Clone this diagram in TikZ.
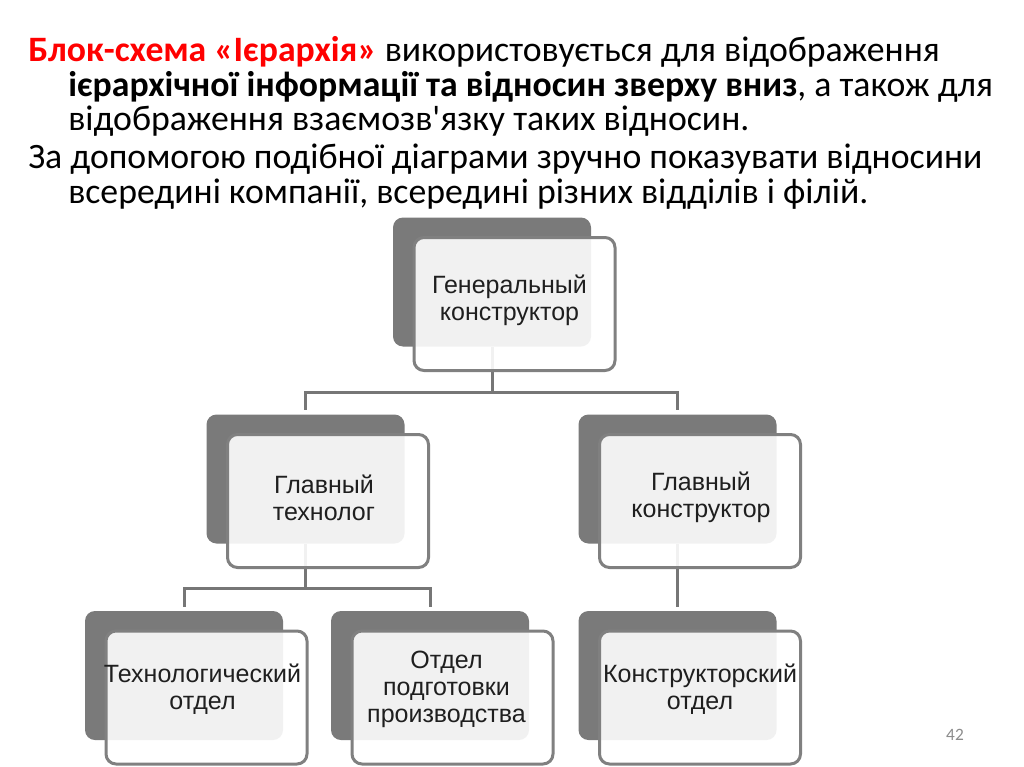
\documentclass[tikz,border=0pt]{standalone}
\usepackage{fontspec}
\setmainfont{Carlito}
\newfontfamily\boxfont{Liberation Sans}
\usetikzlibrary{calc}
\definecolor{titlered}{RGB}{255,0,0}
\definecolor{backgray}{RGB}{122,122,122}
\definecolor{linegray}{RGB}{118,118,118}
\definecolor{edgegray}{RGB}{128,128,128}
\definecolor{numgray}{RGB}{140,140,140}

\begin{document}
\begin{tikzpicture}[x=0.75pt,y=-0.75pt,
    back/.style={fill=backgray, draw=none, rounded corners=7.5pt,
      minimum width=148.5pt, minimum height=96.75pt, inner sep=0pt},
    front/.style={fill=white, fill opacity=0.9, draw=edgegray, draw opacity=1,
      line width=2.25pt, rounded corners=7.5pt,
      minimum width=150.75pt, minimum height=99.75pt, inner sep=0pt},
    boxtext/.style={font=\boxfont\fontsize{18.75}{20.5}\selectfont, text=black!88,
      align=center, inner sep=0pt},
    conn/.style={draw=linegray, line width=2.25pt, shorten >=3pt},
    txt/.style={anchor=base west, inner sep=0pt, font=\fontsize{26.8}{30}\selectfont}]
    \useasboundingbox[fill=white] (0,0) rectangle (1024,767); % page

    % text above the chart
    \node[txt] (l1) at (28,62) {\textcolor{titlered}{\bfseries Блок-схема «Ієрархія»} використовується для відображення};
    \node[txt] (l2) at (68,97) {\textbf{ієрархічної інформації та відносин зверху вниз}, а також для};
    \node[txt] (l3) at (68,130) {відображення взаємозв\textquotesingle язку таких відносин.};
    \node[txt] (l4) at (28,168) {За допомогою подібної діаграми зручно показувати відносини};
    \node[txt] (l5) at (68,203) {всередині компанії, всередині різних відділів і філій.};

    % dark back boxes
    \node[back] (gen-b) at (492,282) {};
    \node[back] (tech-b) at (305.5,479) {};
    \node[back] (kon-b) at (677.5,479) {};
    \node[back] (tdep-b) at (184,675.5) {};
    \node[back] (prep-b) at (430,675.5) {};
    \node[back] (kdep-b) at (677.5,675.5) {};

    % connectors
    \coordinate (j1) at (492,392);
    \coordinate (j2) at (305.5,588);
    \draw[conn] (gen-b.south) -- (j1) -| (tech-b.north);
    \draw[conn] (j1) -| (kon-b.north);
    \draw[conn] (tech-b.south) -- (j2) -| (tdep-b.north);
    \draw[conn] (j2) -| (prep-b.north);
    \draw[conn] (kon-b.south) -- (kdep-b.north);

    % front boxes
    \node[front] (gen) at ($(gen-b)+(22.5,22)$) {};
    \node[front] (tech) at ($(tech-b)+(22.5,22)$) {};
    \node[front] (kon) at ($(kon-b)+(22.5,22)$) {};
    \node[front] (tdep) at ($(tdep-b)+(22.5,22)$) {};
    \node[front] (prep) at ($(prep-b)+(22.5,22)$) {};
    \node[front] (kdep) at ($(kdep-b)+(22.5,22)$) {};

    % labels
    \node[boxtext] (gen-t) at ($(gen)+(-5,-4)$) {Генеральный\\конструктор};
    \node[boxtext] (tech-t) at ($(tech)+(-4,-3)$) {Главный\\технолог};
    \node[boxtext] (kon-t) at ($(kon)+(1,-4)$) {Главный\\конструктор};
    \node[boxtext] (tdep-t) at ($(tdep)+(-4,-8)$) {Технологический\\отдел};
    \node[boxtext] (prep-t) at ($(prep)+(-6,-8)$) {Отдел\\подготовки\\производства};
    \node[boxtext] (kdep-t) at ($(kdep)+(0,-8)$) {Конструкторский\\отдел};

    \node[inner sep=0pt, text=numgray, font=\fontsize{13}{15}\selectfont] (page) at (955,735) {42}; % slide number
\end{tikzpicture}
\end{document}
